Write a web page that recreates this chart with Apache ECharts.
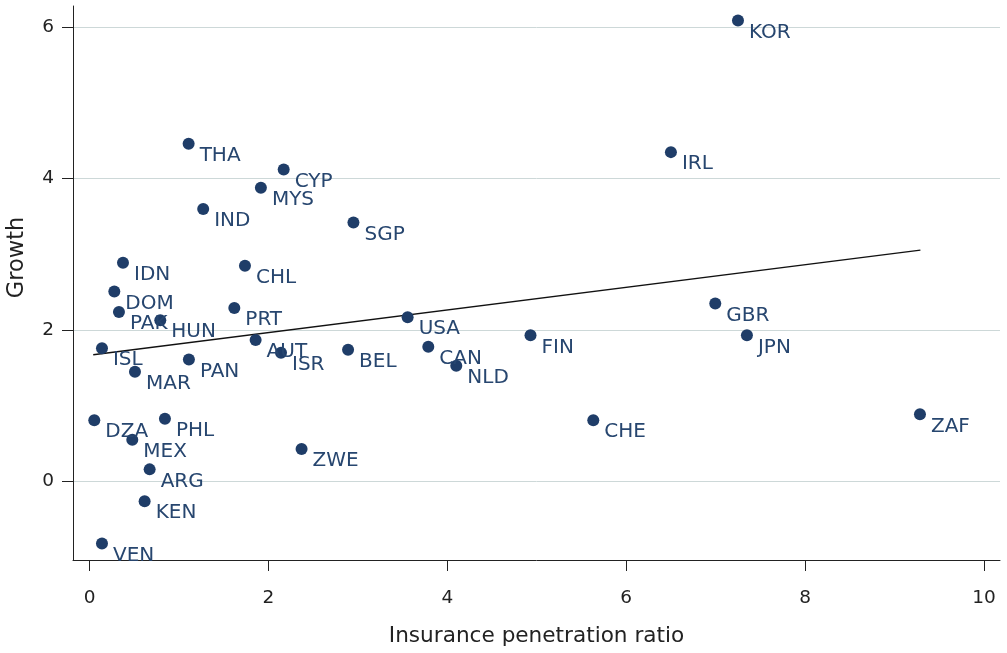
<!DOCTYPE html>
<html>
<head>
<meta charset="utf-8">
<script src="https://cdn.jsdelivr.net/npm/echarts@6/dist/echarts.min.js"></script>
<style>html,body{margin:0;padding:0;background:#fff;}#chart{width:1007px;height:653px;}</style>
</head>
<body>
<div id="chart"></div>
<script>
var countries = ['KOR','THA','CYP','MYS','IND','IRL','SGP','IDN','CHL','DOM','PAK','HUN','PRT','ISL','AUT','ISR','BEL','MAR','PAN','USA','CAN','NLD','FIN','GBR','JPN','CHE','ZAF','DZA','PHL','MEX','ZWE','ARG','KEN','VEN'];
var penetration = [7.25,1.107,2.17,1.915,1.27,6.50,2.95,0.373,1.737,0.276,0.328,0.79,1.618,0.138,1.856,2.14,2.89,0.507,1.11,3.556,3.787,4.10,4.93,6.996,7.35,5.632,9.285,0.052,0.842,0.477,2.37,0.671,0.615,0.138];
var growth = [6.09,4.46,4.12,3.88,3.60,4.35,3.42,2.89,2.85,2.51,2.24,2.13,2.29,1.76,1.87,1.70,1.74,1.45,1.61,2.17,1.78,1.53,1.93,2.35,1.93,0.81,0.887,0.81,0.83,0.55,0.43,0.16,-0.26,-0.82];
var fitX = [0.04, 9.29];
var fitY = [1.674, 3.056];
var xTicks = [0, 2, 4, 6, 8, 10];
var yTicks = [0, 2, 4, 6];

var pts = countries.map(function(c, i){ return {name: c, value: [penetration[i], growth[i]]}; });
var fitData = fitX.map(function(x, i){ return [x, fitY[i]]; });

var FONT = 'DejaVu Sans';
var chart = echarts.init(document.getElementById('chart'), null, {renderer:'canvas'});
chart.setOption({
  animation: false,
  backgroundColor: '#ffffff',
  grid: {left: 73, right: 7, top: 6, bottom: 93, containLabel: false, outerBoundsMode: 'none'},
  xAxis: {
    type: 'value', min: -0.186, max: 10.18,
    name: 'Insurance penetration ratio', nameLocation: 'middle', nameGap: 65,
    nameTextStyle: {fontFamily: FONT, fontSize: 21.6, color: '#222'},
    axisLine: {show: true, onZero: false, lineStyle: {color: '#222', width: 1}},
    axisTick: {show: true, length: 11, customValues: xTicks, lineStyle: {color: '#222'}},
    axisLabel: {customValues: xTicks, fontFamily: FONT, fontSize: 18.5, color: '#222', margin: 29},
    splitLine: {show: false}
  },
  yAxis: {
    type: 'value', min: -1.037, max: 6.28,
    name: 'Growth', nameLocation: 'middle', nameGap: 44,
    nameTextStyle: {fontFamily: FONT, fontSize: 22.5, color: '#222', padding: [0, 0, 0, 51]},
    axisLine: {show: true, onZero: false, lineStyle: {color: '#222', width: 1}},
    axisTick: {show: true, length: 11, customValues: yTicks, lineStyle: {color: '#222'}},
    axisLabel: {customValues: yTicks, fontFamily: FONT, fontSize: 18.5, color: '#222', margin: 19},
    splitLine: {show: true, lineStyle: {color: '#cdd8d8', width: 1}}
  },
  series: [
    {
      type: 'line', data: fitData, symbol: 'none', silent: true,
      lineStyle: {color: '#111', width: 1.3}, z: 1
    },
    {
      type: 'scatter', data: pts, symbol: 'circle', symbolSize: 12, z: 2,
      itemStyle: {color: '#1f3d68', opacity: 1},
      label: {show: true, position: 'right', distance: 5, offset: [0, 12],
        formatter: function(p){ return p.name; },
        fontFamily: FONT, fontSize: 20, color: '#27466f'},
      emphasis: {disabled: true}
    }
  ]
});
</script>
</body>
</html>
